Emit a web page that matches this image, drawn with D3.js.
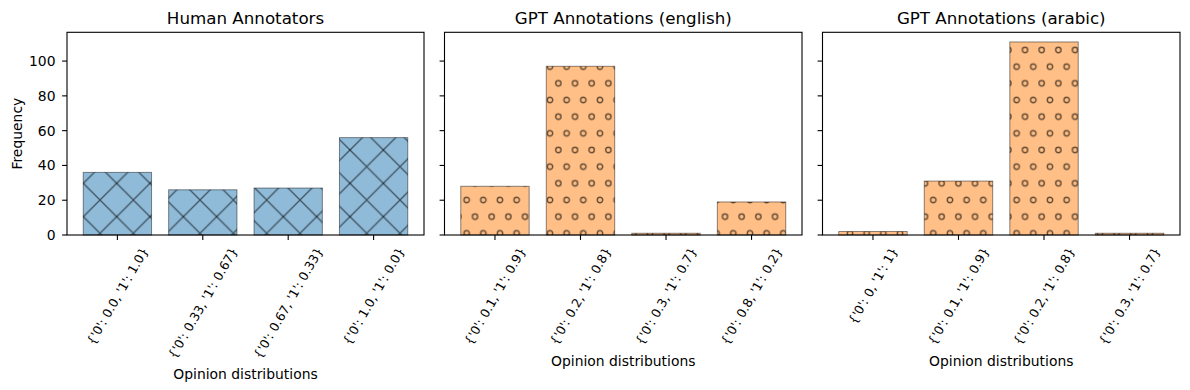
<!DOCTYPE html>
<html>
<head>
<meta charset="utf-8">
<script src="https://cdn.jsdelivr.net/npm/d3@7"></script>
<style>
  body { margin: 0; background: #fff; }
  svg { font-family: "DejaVu Sans", sans-serif; }
</style>
</head>
<body>
<script>
// data
var humanCats = ["{'0': 0.0, '1': 1.0}", "{'0': 0.33, '1': 0.67}", "{'0': 0.67, '1': 0.33}", "{'0': 1.0, '1': 0.0}"];
var humanVals = [36, 26, 27, 56];
var englishCats = ["{'0': 0.1, '1': 0.9}", "{'0': 0.2, '1': 0.8}", "{'0': 0.3, '1': 0.7}", "{'0': 0.8, '1': 0.2}"];
var englishVals = [28, 97, 1, 19];
var arabicCats = ["{'0': 0, '1': 1}", "{'0': 0.1, '1': 0.9}", "{'0': 0.2, '1': 0.8}", "{'0': 0.3, '1': 0.7}"];
var arabicVals = [2, 31, 111, 1];
var yTicks = [0, 20, 40, 60, 80, 100];

var width = 1190, height = 390;
var top_ = 32.3, bottom = 235;
var tickLen = 4.9, tickPad = 4.9;
var xTickFs = 12.5;  // rotated category labels
var yTickFs = 13.9;
var labelFs = 13.9;  // axis labels
var titleFs = 16.7;

var panels = [
  {title: "Human Annotators", cats: humanCats, vals: humanVals, x0: 67, x1: 424, fill: "#8fbbd9", hatch: "hx", ylabels: true},
  {title: "GPT Annotations (english)", cats: englishCats, vals: englishVals, x0: 444.5, x1: 802, fill: "#ffbf86", hatch: "ho", ylabels: false},
  {title: "GPT Annotations (arabic)", cats: arabicCats, vals: arabicVals, x0: 822.5, x1: 1180, fill: "#ffbf86", hatch: "ho", ylabels: false}
];

var svg = d3.select("body").append("svg")
    .attr("width", width)
    .attr("height", height);

// hatch patterns, anchored to the figure origin
var defs = svg.append("defs");
var u = 100 / 3;
var px = defs.append("pattern").attr("id", "hx")
    .attr("patternUnits", "userSpaceOnUse")
    .attr("width", u).attr("height", u);
[[-u, -u, 2 * u, 2 * u], [2 * u, -u, -u, 2 * u]].forEach(function(l){
  px.append("line")
    .attr("x1", l[0]).attr("y1", l[1]).attr("x2", l[2]).attr("y2", l[3])
    .attr("stroke", "#000").attr("stroke-opacity", 0.55).attr("stroke-width", 1.3);
});
var s = 100 / 6;
var po = defs.append("pattern").attr("id", "ho")
    .attr("patternUnits", "userSpaceOnUse")
    .attr("width", s).attr("height", 2 * s);
[[0, 0], [s, 0], [0, 2 * s], [s, 2 * s], [s / 2, s]].forEach(function(c){
  po.append("circle")
    .attr("cx", c[0]).attr("cy", c[1]).attr("r", 2.7)
    .attr("fill", "none")
    .attr("stroke", "#000").attr("stroke-opacity", 0.6).attr("stroke-width", 1.4);
});

var y = d3.scaleLinear()
    .domain([0, d3.max(arabicVals) * 1.05])
    .range([bottom, top_]);

panels.forEach(function(p){
  var x = d3.scaleLinear()
      .domain([-0.59, p.cats.length - 1 + 0.59])
      .range([p.x0, p.x1]);
  var bw = x(0.4) - x(-0.4);

  // bars: fill, hatch, edge
  var bars = svg.append("g");
  p.vals.forEach(function(v, i){
    var bx = x(i) - bw / 2, by = y(v), bh = y(0) - y(v);
    bars.append("rect").attr("x", bx).attr("y", by).attr("width", bw).attr("height", bh)
        .attr("fill", p.fill);
    bars.append("rect").attr("x", bx).attr("y", by).attr("width", bw).attr("height", bh)
        .attr("fill", "url(#" + p.hatch + ")");
    bars.append("rect").attr("x", bx).attr("y", by).attr("width", bw).attr("height", bh)
        .attr("fill", "none").attr("stroke", "#000").attr("stroke-opacity", 0.45).attr("stroke-width", 1);
  });

  // frame
  svg.append("rect")
      .attr("x", p.x0).attr("y", top_)
      .attr("width", p.x1 - p.x0).attr("height", bottom - top_)
      .attr("fill", "none").attr("stroke", "#000").attr("stroke-width", 1.1);

  // title
  svg.append("text")
      .attr("x", (p.x0 + p.x1) / 2).attr("y", 24)
      .attr("text-anchor", "middle")
      .attr("font-size", titleFs + "px")
      .text(p.title);

  // y ticks
  yTicks.forEach(function(t){
    svg.append("line")
        .attr("x1", p.x0 - tickLen).attr("x2", p.x0)
        .attr("y1", y(t)).attr("y2", y(t))
        .attr("stroke", "#000").attr("stroke-width", 1.1);
    if (p.ylabels) {
      svg.append("text")
          .attr("x", 55.5).attr("y", y(t))
          .attr("text-anchor", "end")
          .attr("dominant-baseline", "central")
          .attr("font-size", yTickFs + "px")
          .text(t);
    }
  });

  // x ticks + rotated labels (bbox centred under the tick, like matplotlib)
  var lblTop = bottom + tickLen + tickPad;
  var maxBottom = lblTop;
  var h = xTickFs * 1.17;
  p.cats.forEach(function(c, i){
    svg.append("line")
        .attr("x1", x(i)).attr("x2", x(i))
        .attr("y1", bottom).attr("y2", bottom + tickLen)
        .attr("stroke", "#000").attr("stroke-width", 1.1);
    var t = svg.append("text")
        .attr("text-anchor", "middle")
        .attr("dominant-baseline", "central")
        .attr("font-size", xTickFs + "px")
        .text(c);
    var L = t.node().getComputedTextLength();
    var bh = L * Math.sin(Math.PI / 3) + h * Math.cos(Math.PI / 3);
    var cy = lblTop + bh / 2;
    t.attr("transform", "translate(" + x(i) + "," + cy + ") rotate(-60)");
    maxBottom = Math.max(maxBottom, lblTop + bh);
  });

  svg.append("text")
      .attr("x", (p.x0 + p.x1) / 2).attr("y", maxBottom + 5.6 + 13)
      .attr("text-anchor", "middle")
      .attr("font-size", labelFs + "px")
      .text("Opinion distributions");
});

svg.append("text")
    .attr("transform", "translate(17," + (top_ + bottom) / 2 + ") rotate(-90)")
    .attr("text-anchor", "middle")
    .attr("dominant-baseline", "central")
    .attr("font-size", labelFs + "px")
    .text("Frequency");
</script>
</body>
</html>
